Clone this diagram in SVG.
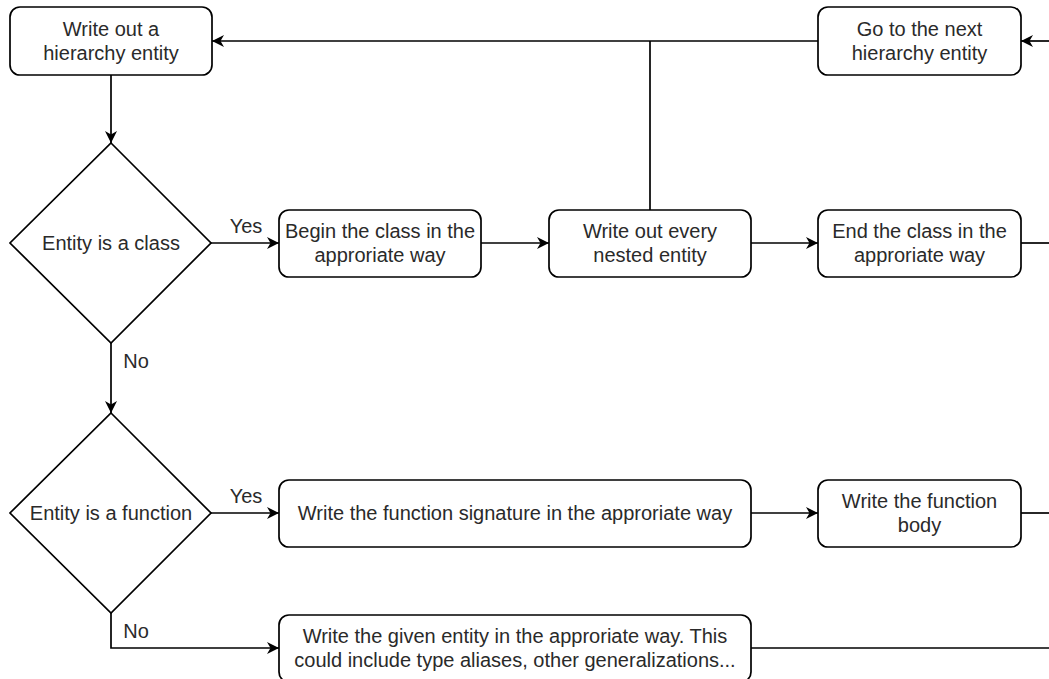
<svg xmlns="http://www.w3.org/2000/svg" width="1049" height="679" viewBox="0 0 1049 679">
<style>
.box{fill:#fff;stroke:#000;stroke-width:1.7}
.t{font-family:"Liberation Sans",Arial,sans-serif;font-size:20px;fill:#2a2a2a;text-anchor:middle}
.l{font-family:"Liberation Sans",Arial,sans-serif;font-size:20px;fill:#2a2a2a;text-anchor:middle}
.c{fill:none;stroke:#000;stroke-width:1.7}
.a{marker-end:url(#arr)}
</style>
<defs>
<marker id="arr" markerUnits="userSpaceOnUse" markerWidth="14" markerHeight="12" refX="12" refY="6" orient="auto">
<path d="M0,0 L12,6 L0,12 L3.5,6 Z" fill="#000"/>
</marker>
</defs>
<rect width="1049" height="679" fill="#fff"/>
<g id="connectors">
<path class="c a" d="M818,41 H212"/>
<path class="c a" d="M1049,41 H1021"/>
<path class="c" d="M650,210 V41"/>
<path class="c a" d="M111,75 V143"/>
<path class="c a" d="M211,243 H279"/>
<path class="c a" d="M481,243 H549"/>
<path class="c a" d="M751,243 H818"/>
<path class="c" d="M1021,243 H1049"/>
<path class="c a" d="M111,343 V413"/>
<path class="c a" d="M211,513 H279"/>
<path class="c a" d="M751,513 H818"/>
<path class="c" d="M1021,513 H1049"/>
<path class="c a" d="M111,613 V648 H279"/>
<path class="c" d="M751,648 H1049"/>
<text class="l" x="246" y="233">Yes</text>
<text class="l" x="136" y="368">No</text>
<text class="l" x="246" y="503">Yes</text>
<text class="l" x="136" y="638">No</text>
</g>
<g id="write-hierarchy">
<rect class="box" x="10" y="7" width="202" height="68" rx="10"/>
<text class="t" x="111" y="36">Write out a</text>
<text class="t" x="111" y="60">hierarchy entity</text>
</g>
<g id="next-hierarchy">
<rect class="box" x="818" y="7" width="203" height="68" rx="10"/>
<text class="t" x="919.5" y="36">Go to the next</text>
<text class="t" x="919.5" y="60">hierarchy entity</text>
</g>
<g id="is-class">
<path class="box" d="M111,143 L211,243 L111,343 L10,243 Z"/>
<text class="t" x="111" y="250">Entity is a class</text>
</g>
<g id="begin-class">
<rect class="box" x="279" y="210" width="202" height="67" rx="10"/>
<text class="t" x="380" y="238">Begin the class in the</text>
<text class="t" x="380" y="262">approriate way</text>
</g>
<g id="nested">
<rect class="box" x="549" y="210" width="202" height="67" rx="10"/>
<text class="t" x="650" y="238">Write out every</text>
<text class="t" x="650" y="262">nested entity</text>
</g>
<g id="end-class">
<rect class="box" x="818" y="210" width="203" height="67" rx="10"/>
<text class="t" x="919.5" y="238">End the class in the</text>
<text class="t" x="919.5" y="262">approriate way</text>
</g>
<g id="is-function">
<path class="box" d="M111,413 L211,513 L111,613 L10,513 Z"/>
<text class="t" x="111" y="520">Entity is a function</text>
</g>
<g id="function-signature">
<rect class="box" x="279" y="480" width="472" height="67" rx="10"/>
<text class="t" x="515" y="520">Write the function signature in the approriate way</text>
</g>
<g id="function-body">
<rect class="box" x="818" y="480" width="203" height="67" rx="10"/>
<text class="t" x="919.5" y="508">Write the function</text>
<text class="t" x="919.5" y="532">body</text>
</g>
<g id="given-entity">
<rect class="box" x="279" y="615" width="472" height="67" rx="10"/>
<text class="t" x="515" y="643">Write the given entity in the approriate way. This</text>
<text class="t" x="515" y="667">could include type aliases, other generalizations...</text>
</g>
</svg>
